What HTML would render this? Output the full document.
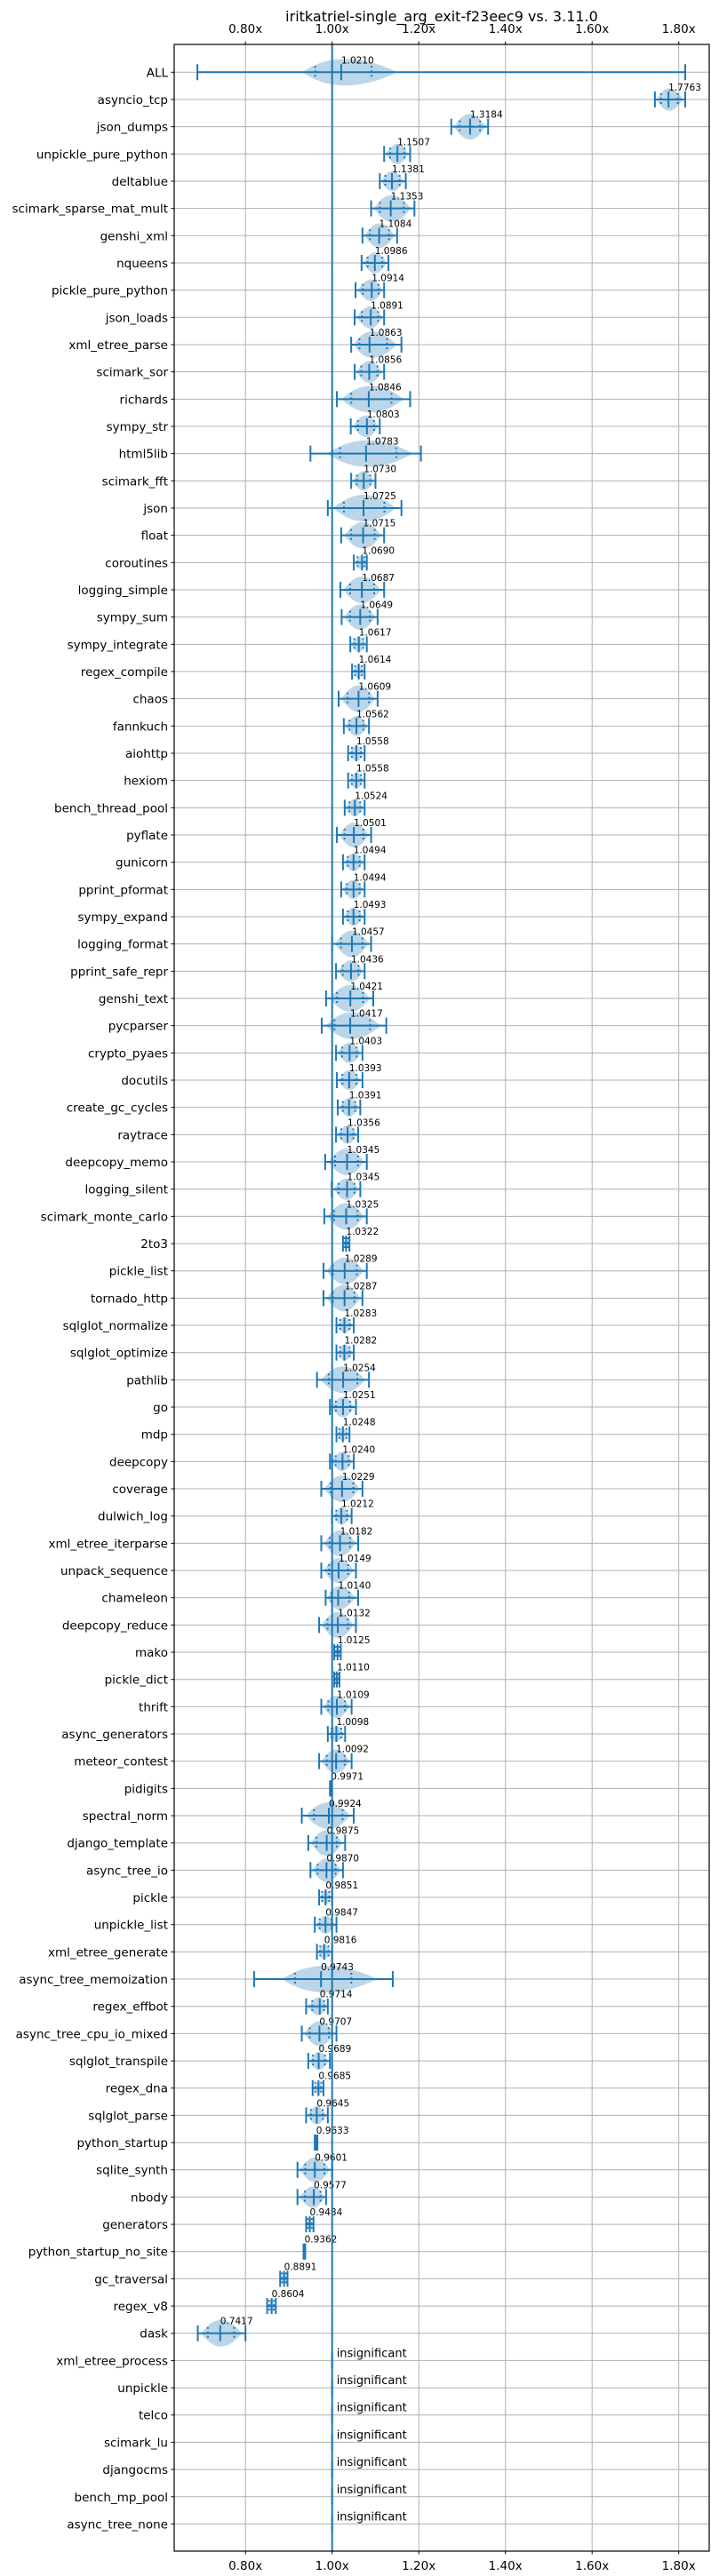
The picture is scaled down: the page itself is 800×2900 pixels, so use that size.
<!DOCTYPE html>
<html><head><meta charset="utf-8">
<style>
html,body{margin:0;padding:0;background:#fff;}
svg{display:block;font-family:"DejaVu Sans","Liberation Sans",sans-serif;}
</style></head>
<body>
<svg id="chart" width="800" height="2900" viewBox="0 0 800 2900" xmlns="http://www.w3.org/2000/svg">
<rect x="0" y="0" width="800" height="2900" fill="#fff"/>
<text x="497" y="24" font-size="16" text-anchor="middle" fill="#000">iritkatriel-single_arg_exit-f23eec9 vs. 3.11.0</text>
<g id="grid"></g>
<g id="marks"></g>
<g id="axes"></g>
</svg>
<script>
const names = ["ALL","asyncio_tcp","json_dumps","unpickle_pure_python","deltablue","scimark_sparse_mat_mult","genshi_xml","nqueens","pickle_pure_python","json_loads","xml_etree_parse","scimark_sor","richards","sympy_str","html5lib","scimark_fft","json","float","coroutines","logging_simple","sympy_sum","sympy_integrate","regex_compile","chaos","fannkuch","aiohttp","hexiom","bench_thread_pool","pyflate","gunicorn","pprint_pformat","sympy_expand","logging_format","pprint_safe_repr","genshi_text","pycparser","crypto_pyaes","docutils","create_gc_cycles","raytrace","deepcopy_memo","logging_silent","scimark_monte_carlo","2to3","pickle_list","tornado_http","sqlglot_normalize","sqlglot_optimize","pathlib","go","mdp","deepcopy","coverage","dulwich_log","xml_etree_iterparse","unpack_sequence","chameleon","deepcopy_reduce","mako","pickle_dict","thrift","async_generators","meteor_contest","pidigits","spectral_norm","django_template","async_tree_io","pickle","unpickle_list","xml_etree_generate","async_tree_memoization","regex_effbot","async_tree_cpu_io_mixed","sqlglot_transpile","regex_dna","sqlglot_parse","python_startup","sqlite_synth","nbody","generators","python_startup_no_site","gc_traversal","regex_v8","dask","xml_etree_process","unpickle","telco","scimark_lu","djangocms","bench_mp_pool","async_tree_none"];
const means = [1.0210,1.7763,1.3184,1.1507,1.1381,1.1353,1.1084,1.0986,1.0914,1.0891,1.0863,1.0856,1.0846,1.0803,1.0783,1.0730,1.0725,1.0715,1.0690,1.0687,1.0649,1.0617,1.0614,1.0609,1.0562,1.0558,1.0558,1.0524,1.0501,1.0494,1.0494,1.0493,1.0457,1.0436,1.0421,1.0417,1.0403,1.0393,1.0391,1.0356,1.0345,1.0345,1.0325,1.0322,1.0289,1.0287,1.0283,1.0282,1.0254,1.0251,1.0248,1.0240,1.0229,1.0212,1.0182,1.0149,1.0140,1.0132,1.0125,1.0110,1.0109,1.0098,1.0092,0.9971,0.9924,0.9875,0.9870,0.9851,0.9847,0.9816,0.9743,0.9714,0.9707,0.9689,0.9685,0.9645,0.9633,0.9601,0.9577,0.9484,0.9362,0.8891,0.8604,0.7417,null,null,null,null,null,null,null];
const mins = [0.689,1.745,1.275,1.120,1.110,1.090,1.070,1.068,1.054,1.052,1.044,1.052,1.011,1.043,0.950,1.044,0.990,1.021,1.050,1.019,1.022,1.042,1.046,1.015,1.027,1.037,1.037,1.029,1.011,1.025,1.021,1.025,1.000,1.009,0.986,0.976,1.009,1.011,1.013,1.009,0.984,0.999,0.982,1.025,0.980,0.980,1.010,1.010,0.965,0.995,1.010,0.995,0.975,1.000,0.975,0.975,0.985,0.970,1.005,1.005,0.975,0.990,0.970,0.995,0.930,0.945,0.950,0.970,0.960,0.965,0.820,0.940,0.930,0.945,0.955,0.940,0.960,0.920,0.920,0.940,0.934,0.880,0.850,0.690,null,null,null,null,null,null,null];
const maxs = [1.815,1.815,1.360,1.180,1.170,1.190,1.150,1.130,1.120,1.120,1.160,1.120,1.180,1.110,1.205,1.100,1.160,1.120,1.080,1.120,1.105,1.080,1.075,1.105,1.085,1.075,1.075,1.075,1.090,1.075,1.075,1.075,1.090,1.075,1.095,1.125,1.070,1.070,1.065,1.060,1.080,1.065,1.080,1.040,1.080,1.070,1.050,1.050,1.085,1.055,1.040,1.050,1.070,1.045,1.060,1.055,1.060,1.055,1.020,1.017,1.045,1.030,1.045,0.999,1.050,1.030,1.025,1.000,1.010,1.000,1.140,0.990,1.010,0.995,0.980,0.990,0.966,1.000,0.986,0.957,0.938,0.897,0.870,0.800,null,null,null,null,null,null,null];
const xTicks = [0.8,1.0,1.2,1.4,1.6,1.8];
const xTickLabels = ["0.80x","1.00x","1.20x","1.40x","1.60x","1.80x"];

const NS = "http://www.w3.org/2000/svg";
const L = 196, R = 798, T = 50, B = 2872;
const X0 = 373.7, PX = 487.5;
function xs(v){ return X0 + (v - 1) * PX; }
function ys(i){ return 81.3 + i * 30.668; }
function mk(tag, attrs, parent){
  const e = document.createElementNS(NS, tag);
  for (const k in attrs) e.setAttribute(k, attrs[k]);
  parent.appendChild(e);
  return e;
}
const grid = document.getElementById('grid');
const marks = document.getElementById('marks');
const axes = document.getElementById('axes');
const C = "#1f77b4";

xTicks.forEach((t, k) => {
  const x = xs(t);
  const g = mk('line', {x1:x, x2:x, y1:T, y2:B, stroke:'#b0b0b0', 'stroke-width':1}, grid);
  
  
  [[T, T-3.5, 37], [B, B+3.5, 2893]].forEach(([y0, y1, ty]) => {
    const tk = mk('line', {x1:x, x2:x, y1:y0, y2:y1, stroke:'#000', 'stroke-width':1}, axes);
    
    
    const tl = mk('text', {x:x, y:ty, 'font-size':13.5, 'text-anchor':'middle', fill:'#000'}, axes);
    
    
    tl.textContent = xTickLabels[k];
  });
});

names.forEach((n, i) => {
  const y = ys(i);
  const g = mk('line', {x1:L, x2:R, y1:y, y2:y, stroke:'#b0b0b0', 'stroke-width':1}, grid);
  
  
  const tk = mk('line', {x1:L-3.5, x2:L, y1:y, y2:y, stroke:'#000', 'stroke-width':1}, axes);
  
  
  const tl = mk('text', {x:L-7, y:y+5, 'font-size':13.5, 'text-anchor':'end', fill:'#000'}, axes);
  
  
  tl.textContent = n;

  const m = means[i];
  if (m === null) {
    const v = mk('rect', {x:xs(1)-1.5, y:y-9, width:3, height:18, fill:C, 'fill-opacity':0.3}, marks);
    
    
    const t = mk('text', {x:xs(1)+5, y:y-4, 'font-size':13, fill:'#000'}, marks);
    
    
    t.textContent = 'insignificant';
    return;
  }
  const a = xs(mins[i]), b = xs(maxs[i]), c = xs(m);
  let va = a + (c - a) * 0.15, vb = b - (b - c) * 0.15;
  va = Math.max(va, c - 0.09 * PX);
  vb = Math.min(vb, c + 0.13 * PX);
  const h = Math.min(15, 4 + (vb - va) * 0.3);
  const vio = mk('path', {d:`M${va},${y} Q${c},${y-2*h} ${vb},${y} Q${c},${y+2*h} ${va},${y} Z`, fill:C, 'fill-opacity':0.3}, marks);
  
  
  const wl = mk('line', {x1:a, x2:b, y1:y, y2:y, stroke:C, 'stroke-width':2}, marks);
  
  
  [a, b, c].forEach(px => {
    const cap = mk('line', {x1:px, x2:px, y1:y-9, y2:y+9, stroke:C, 'stroke-width':2}, marks);
    
    
  });
  [Math.max(c - (c - a) * 0.55, c - 0.06 * PX), Math.min(c + (b - c) * 0.55, c + 0.07 * PX)].forEach(px => {
    const q = mk('line', {x1:px, x2:px, y1:y-7, y2:y+7, stroke:C, 'stroke-width':2, 'stroke-dasharray':'2,3'}, marks);
    
    
  });
  const lab = mk('text', {x:c, y:y-10, 'font-size':10.5, fill:'#000'}, marks);
  
  
  lab.textContent = m.toFixed(4);
});

const base = mk('line', {x1:xs(1), x2:xs(1), y1:T, y2:B, stroke:C, 'stroke-width':2}, marks);



const fr = mk('rect', {x:L, y:T, width:R-L, height:B-T, fill:'none', stroke:'#000', 'stroke-width':1.2}, axes);


</script>
</body></html>
